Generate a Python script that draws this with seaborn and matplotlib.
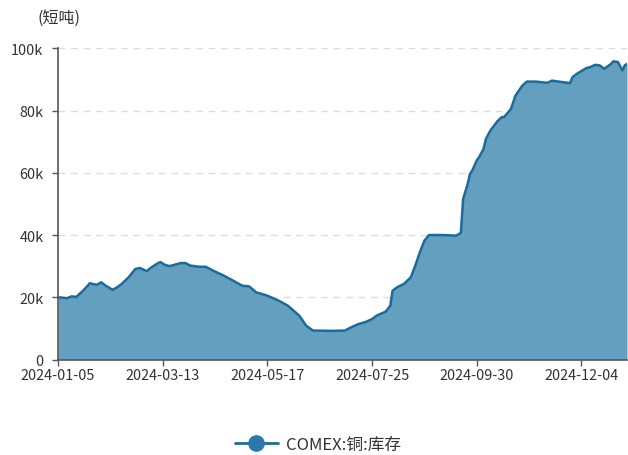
import pandas as pd
import numpy as np
import matplotlib
matplotlib.use("Agg")
import matplotlib.pyplot as plt
from matplotlib.lines import Line2D
from matplotlib.ticker import FuncFormatter
import seaborn as sns

# COMEX 铜库存 (短吨), 按交易日读数
dates = [
    "2024-01-05", "2024-01-11", "2024-01-16", "2024-01-18", "2024-01-23", "2024-01-26",
    "2024-01-31", "2024-02-02", "2024-02-06", "2024-02-09", "2024-02-13", "2024-02-15",
    "2024-02-21", "2024-02-26", "2024-02-28", "2024-03-04", "2024-03-06", "2024-03-11",
    "2024-03-12", "2024-03-14", "2024-03-18", "2024-03-25", "2024-03-27", "2024-04-01",
    "2024-04-05", "2024-04-10", "2024-04-15", "2024-04-22", "2024-04-26", "2024-05-02",
    "2024-05-07", "2024-05-10", "2024-05-17", "2024-05-24", "2024-05-31", "2024-06-07",
    "2024-06-12", "2024-06-17", "2024-06-28", "2024-07-09", "2024-07-12", "2024-07-17",
    "2024-07-22", "2024-07-25", "2024-07-29", "2024-08-02", "2024-08-06", "2024-08-07",
    "2024-08-09", "2024-08-14", "2024-08-19", "2024-08-21", "2024-08-23", "2024-08-27",
    "2024-08-29", "2024-09-09", "2024-09-17", "2024-09-19", "2024-09-20", "2024-09-24",
    "2024-09-25", "2024-09-26", "2024-09-30", "2024-10-01", "2024-10-03", "2024-10-04",
    "2024-10-08", "2024-10-11", "2024-10-15", "2024-10-16", "2024-10-21", "2024-10-23",
    "2024-10-28", "2024-10-30", "2024-11-05", "2024-11-12", "2024-11-14", "2024-11-19",
    "2024-11-26", "2024-11-27", "2024-12-02", "2024-12-04", "2024-12-06", "2024-12-10",
    "2024-12-12", "2024-12-16", "2024-12-18", "2024-12-23", "2024-12-24", "2024-12-27",
    "2024-12-31", "2025-01-02", "2025-01-03",
]
stock = [
    20000, 19700, 20300, 20100, 22100, 24500,
    24000, 24800, 23700, 22400, 23200, 24300,
    26400, 29100, 29400, 28400, 29600, 31000,
    31300, 30400, 30000, 31000, 31000, 30200,
    29800, 29800, 28600, 26900, 25300, 23700,
    23500, 21600, 20500, 18900, 17300, 14100,
    10900, 9300, 9200, 9300, 10400, 11400,
    12000, 13000, 14100, 15400, 17300, 22100,
    23200, 24300, 26400, 30200, 34500, 38200,
    40000, 40000, 39800, 40700, 51600, 56400,
    59600, 60700, 64000, 65000, 67700, 70900,
    73600, 76500, 77900, 77900, 80500, 84800,
    88000, 89300, 89300, 88900, 89600, 89300,
    88800, 90700, 91800, 92700, 93600, 94000,
    94700, 94500, 93400, 95000, 95800, 95600,
    92900, 94500, 95000,
]

# CME 休市日
holidays = [
    "2024-01-15", "2024-02-19", "2024-03-29", "2024-05-27", "2024-06-19",
    "2024-07-04", "2024-09-02", "2024-11-28", "2024-12-25", "2025-01-01",
]

sns.set_theme(style="white")
plt.rcParams["font.family"] = ["Noto Sans CJK SC", "DejaVu Sans"]

# 类目轴: 每个交易日一格
trade_days = pd.bdate_range("2024-01-05", "2025-01-03", freq="C", holidays=holidays)
df = pd.DataFrame({"date": pd.to_datetime(dates), "stock": stock})
df["pos"] = trade_days.get_indexer(df["date"])

line_color = "#1d6b98"
fill_color = "#649fc0"
text_color = "#333333"

fig = plt.figure(figsize=(6.28, 4.56), dpi=100)
ax = fig.add_axes([58 / 628, 1 - 360.5 / 456, 569 / 628, 311.2 / 456])

ax.fill_between(df["pos"], df["stock"], 0, color=fill_color, linewidth=0)
sns.lineplot(data=df, x="pos", y="stock", ax=ax, color=line_color, linewidth=1.8)

ax.set_xlim(0, len(trade_days) - 1)
ax.set_ylim(0, 100000)
ax.set_yticks([0, 20000, 40000, 60000, 80000, 100000])
ax.yaxis.set_major_formatter(FuncFormatter(lambda v, p: "0" if v == 0 else f"{int(v / 1000)}k"))

tick_pos = list(range(0, len(trade_days), 46))
ax.set_xticks(tick_pos)
ax.set_xticklabels([trade_days[i].strftime("%Y-%m-%d") for i in tick_pos])

ax.grid(axis="y", color="#dddddd", linestyle=(0, (5, 4)), linewidth=1)
ax.set_axisbelow(True)
for side in ["top", "right"]:
    ax.spines[side].set_visible(False)
for side in ["left", "bottom"]:
    ax.spines[side].set_color("#555555")
    ax.spines[side].set_linewidth(1.2)
ax.tick_params(axis="both", which="major", length=4.5, width=1, color="#555555",
               labelsize=10.4, labelcolor=text_color, direction="out")
ax.tick_params(axis="x", bottom=True, pad=1.5)
ax.tick_params(axis="y", left=True, pad=6)
ax.set_xlabel("")
ax.set_ylabel("")

fig.text(59 / 628, 1 - 18 / 456, "(短吨)", ha="center", va="center",
         fontsize=11.5, color=text_color)

handle = Line2D([], [], color=line_color, linewidth=2, marker="o",
                markersize=11, markerfacecolor="#2a78ad", markeredgecolor="#2a78ad")
fig.legend([handle], ["COMEX:铜:库存"], loc="center", bbox_to_anchor=(318 / 628, 1 - 445 / 456),
           frameon=False, fontsize=12, handlelength=2.6, handletextpad=0.5,
           labelcolor=text_color)

fig.savefig("out.png", dpi=100)
